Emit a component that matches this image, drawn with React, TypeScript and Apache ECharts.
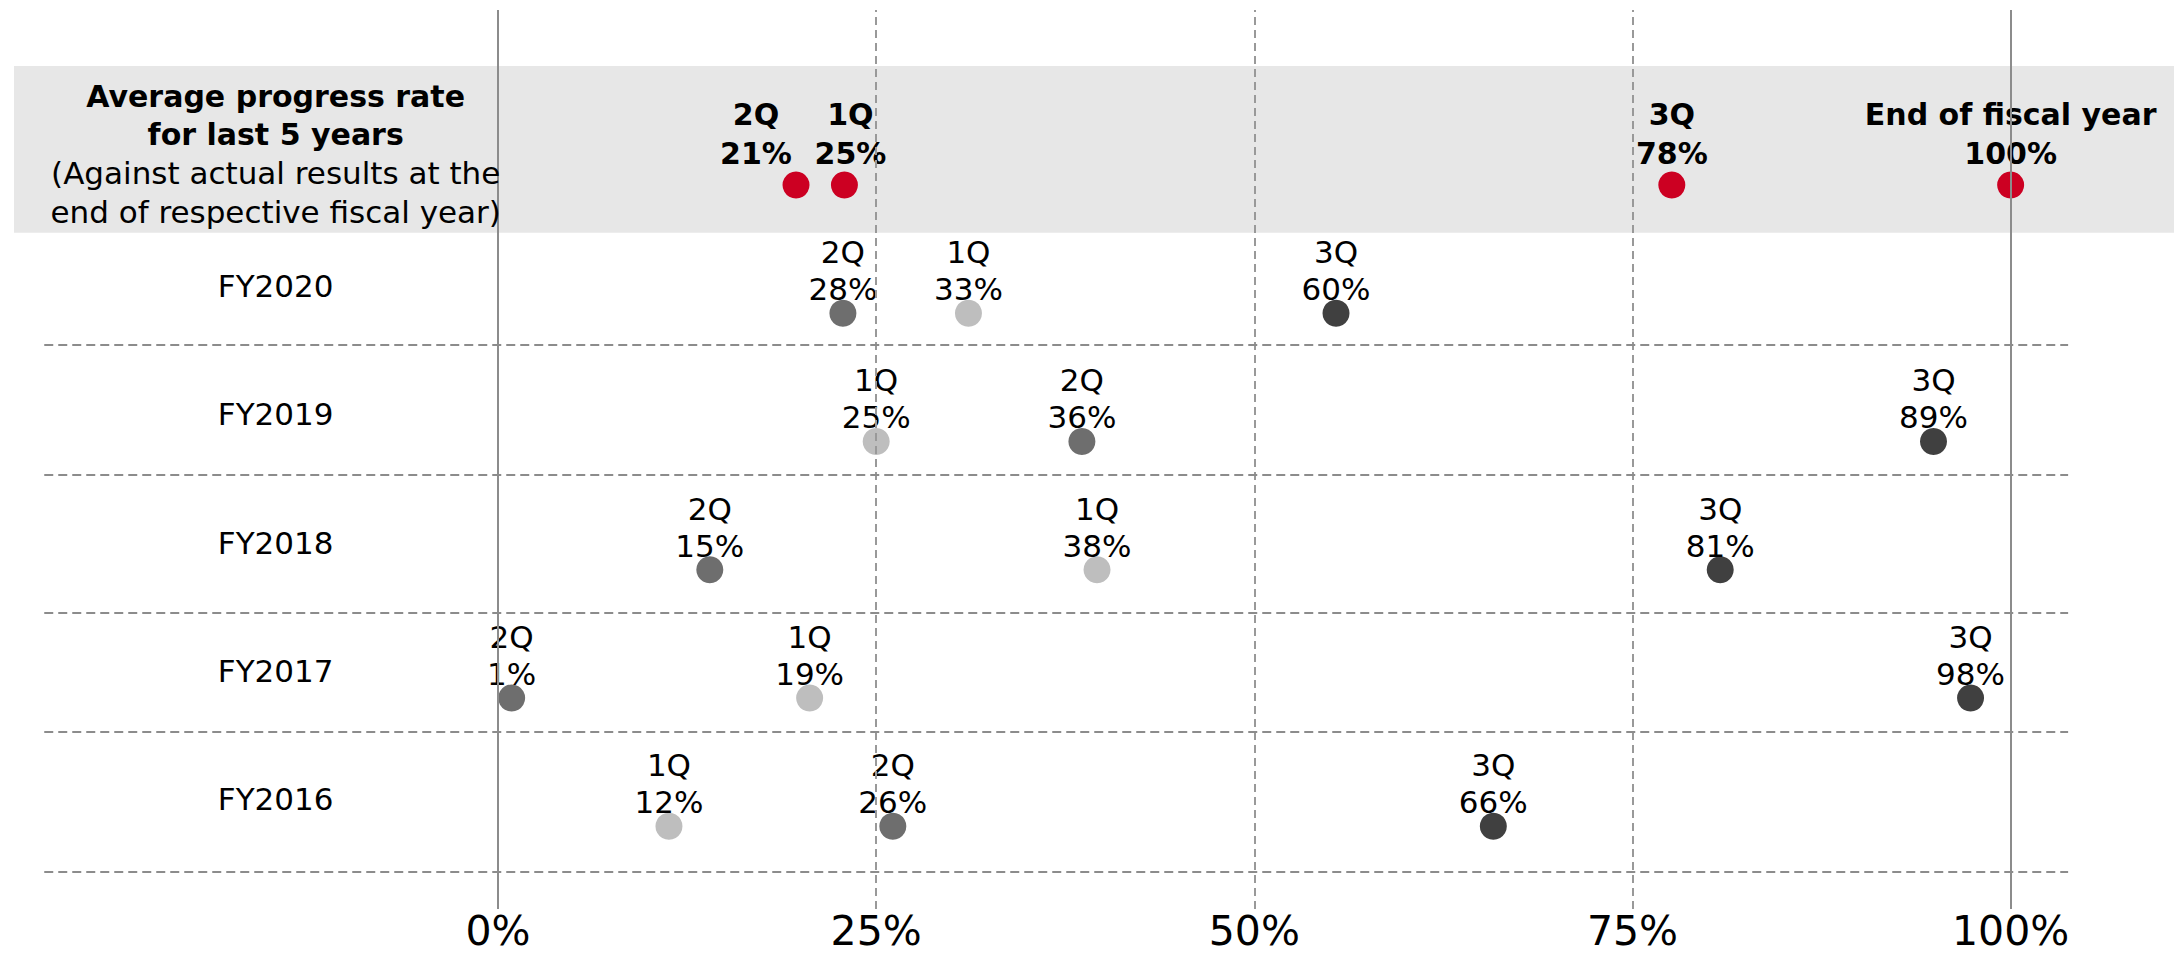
import React, { useEffect, useRef } from 'react';
import * as echarts from 'echarts';

// ---- data ----
const ROW_NAMES = ['FY2016', 'FY2017', 'FY2018', 'FY2019', 'FY2020'];
const Q1_POS = [11.3, 20.6, 39.6, 25.0, 31.1];
const Q1_PCT = [12, 19, 38, 25, 33];
const Q2_POS = [26.1, 0.9, 14.0, 38.6, 22.8];
const Q2_PCT = [26, 1, 15, 36, 28];
const Q3_POS = [65.8, 97.35, 80.8, 94.9, 55.4];
const Q3_PCT = [66, 98, 81, 89, 60];
const AVG_NAMES = ['1Q', '2Q', '3Q', 'End of fiscal year'];
const AVG_POS = [22.9, 19.7, 77.6, 100];
const AVG_PCT = [25, 21, 78, 100];
const X_TICKS = [0, 25, 50, 75, 100];
const HEADER_BOLD = ['Average progress rate', 'for last 5 years'];
const HEADER_NOTE = ['(Against actual results at the', 'end of respective fiscal year)'];

// ---- layout helpers ----
const AVG_ROW = 5;
const LABEL_X = -14.7;
const ROW_DIVIDERS = [-0.356, 0.738, 1.666, 2.739, 3.753];
const BAND = [4.628, 5.928];
const DIVIDER_X = [-30, 103.8];
const AVG_LABEL_SHIFT = [6, -40, 0, 0];
const FONT = '"DejaVu Sans", Verdana, sans-serif';
const LINE_COLOR = '#8c8c8c';

function dotSeries(q: string, pos: number[], pct: number[], color: string) {
  return {
    type: 'scatter',
    name: q,
    z: 4,
    silent: true,
    symbol: 'circle',
    symbolSize: 27,
    itemStyle: { color, opacity: 1 },
    data: pos.map((x, i) => [x, i]),
    label: {
      show: true,
      position: 'top',
      distance: 0,
      offset: [0, 8],
      formatter: (p: any) => `${q}\n${pct[p.dataIndex]}%`,
      fontFamily: FONT,
      fontSize: 31,
      lineHeight: 37,
      color: '#000',
    },
  };
}

const option: any = {
  animation: false,
  backgroundColor: '#fff',
  grid: { left: 14, right: 0, top: 10, bottom: 45, containLabel: false, outerBoundsMode: 'none' },
  xAxis: {
    type: 'value',
    min: -32,
    max: 110.8,
    splitLine: { show: false },
    axisLine: { show: false },
    axisTick: { show: false },
    axisLabel: {
      customValues: X_TICKS,
      formatter: '{value}%',
      fontFamily: FONT,
      fontSize: 41,
      lineHeight: 34,
      margin: 5,
      color: '#000',
    },
  },
  yAxis: { type: 'value', min: -0.645, max: 6.364, show: false },
  series: [
    {
      type: 'scatter',
      z: 1,
      silent: true,
      data: [],
      markArea: {
        silent: true,
        itemStyle: { color: '#e7e7e7' },
        data: [[{ xAxis: 'min', yAxis: BAND[1] }, { xAxis: 'max', yAxis: BAND[0] }]],
      },
    },
    {
      type: 'scatter',
      z: 2,
      silent: true,
      data: [],
      markLine: {
        silent: true,
        symbol: ['none', 'none'],
        label: { show: false },
        data: [
          ...X_TICKS.map((v) => ({
            xAxis: v,
            lineStyle: {
              color: v === 0 || v === 100 ? LINE_COLOR : '#999999',
              width: 2,
              type: v === 0 || v === 100 ? 'solid' : [8, 5],
            },
          })),
          ...ROW_DIVIDERS.map((y) => [
            { coord: [DIVIDER_X[0], y], lineStyle: { color: LINE_COLOR, width: 2, type: [9, 5] } },
            { coord: [DIVIDER_X[1], y] },
          ]),
        ],
      },
    },
    dotSeries('1Q', Q1_POS, Q1_PCT, '#bebebe'),
    dotSeries('2Q', Q2_POS, Q2_PCT, '#6e6e6e'),
    dotSeries('3Q', Q3_POS, Q3_PCT, '#404040'),
    {
      type: 'scatter',
      name: 'avg',
      z: 4,
      silent: true,
      symbol: 'circle',
      symbolSize: 27,
      itemStyle: { color: '#cc0022', opacity: 1 },
      data: AVG_POS.map((x, i) => ({
        value: [x, AVG_ROW],
        label: { offset: [AVG_LABEL_SHIFT[i], 1] },
      })),
      label: {
        show: true,
        position: 'top',
        distance: 0,
        offset: [0, 1],
        formatter: (p: any) => `${AVG_NAMES[p.dataIndex]}\n${AVG_PCT[p.dataIndex]}%`,
        fontFamily: FONT,
        fontSize: 30,
        fontWeight: 'bold',
        lineHeight: 38.5,
        color: '#000',
      },
    },
    {
      type: 'scatter',
      name: 'rows',
      z: 5,
      silent: true,
      symbolSize: 1,
      itemStyle: { color: 'rgba(0,0,0,0)', opacity: 1 },
      data: ROW_NAMES.map((n, i) => ({ name: n, value: [LABEL_X, i] })),
      label: {
        show: true,
        position: 'inside',
        offset: [0, -27],
        formatter: '{b}',
        fontFamily: FONT,
        fontSize: 31,
        color: '#000',
        opacity: 1,
      },
    },
    {
      type: 'scatter',
      name: 'header',
      z: 5,
      silent: true,
      symbolSize: 1,
      itemStyle: { color: 'rgba(0,0,0,0)', opacity: 1 },
      data: [{ value: [LABEL_X, AVG_ROW] }],
      label: {
        show: true,
        position: 'inside',
        offset: [0, -31],
        align: 'center',
        opacity: 1,
        formatter: () =>
          [...HEADER_BOLD.map((s) => `{b|${s}}`), ...HEADER_NOTE.map((s) => `{r|${s}}`)].join('\n'),
        rich: {
          b: { fontFamily: FONT, fontSize: 30, fontWeight: 'bold', lineHeight: 38.5, color: '#000', align: 'center' },
          r: { fontFamily: FONT, fontSize: 31, lineHeight: 38.5, color: '#000', align: 'center' },
        },
      },
    },
  ],
};

export default function App() {
  const ref = useRef<HTMLDivElement>(null);
  useEffect(() => {
    const chart = echarts.init(ref.current!, null, { renderer: 'svg' });
    chart.setOption(option);
    return () => chart.dispose();
  }, []);
  return (
    <div
      ref={ref}
      style={{ position: 'fixed', left: 0, top: 0, width: 2174, height: 954 }}
    />
  );
}
